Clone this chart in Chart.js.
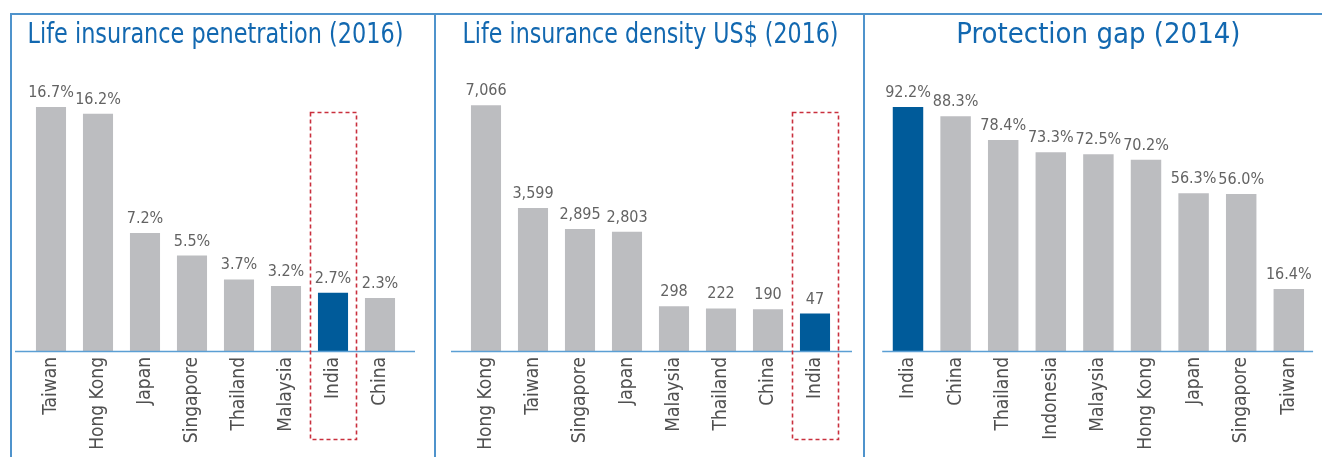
<!DOCTYPE html>
<html>
<head>
<meta charset="utf-8">
<script src="https://cdn.jsdelivr.net/npm/chart.js@4.4.1/dist/chart.umd.min.js"></script>
<style>
  html, body { margin: 0; padding: 0; background: #fff; }
  body { width: 1322px; height: 457px; position: relative; overflow: hidden; }
  .line { position: absolute; background: #4f93cc; }
  canvas { position: absolute; top: 0; }
</style>
</head>
<body>
<div class="line" style="left:10px; top:13px; width:1312px; height:1.5px;"></div>
<div class="line" style="left:10px; top:13px; width:1.5px; height:444px;"></div>
<div class="line" style="left:434px; top:13px; width:1.5px; height:444px;"></div>
<div class="line" style="left:863px; top:13px; width:1.5px; height:444px;"></div>
<canvas id="c1" width="424" height="457" style="left:10px"></canvas>
<canvas id="c2" width="430" height="457" style="left:434px"></canvas>
<canvas id="c3" width="458" height="457" style="left:864px"></canvas>
<script>
// ---- data ----
const penetrationTitle = "Life insurance penetration (2016)";
const penetrationCountries = ["Taiwan", "Hong Kong", "Japan", "Singapore", "Thailand", "Malaysia", "India", "China"];
const penetrationValues = [16.7, 16.2, 7.2, 5.5, 3.7, 3.2, 2.7, 2.3];

const densityTitle = "Life insurance density US$ (2016)";
const densityCountries = ["Hong Kong", "Taiwan", "Singapore", "Japan", "Malaysia", "Thailand", "China", "India"];
const densityValues = [7066, 3599, 2895, 2803, 298, 222, 190, 47];

const gapTitle = "Protection gap (2014)";
const gapCountries = ["India", "China", "Thailand", "Indonesia", "Malaysia", "Hong Kong", "Japan", "Singapore", "Taiwan"];
const gapValues = [92.2, 88.3, 78.4, 73.3, 72.5, 70.2, 56.3, 56.0, 16.4];

const highlightCountry = "India";

// value-axis ranges (bars rise from the axis floor, as in the original graphic)
const penetrationAxis = { min: -1.7, max: 18.14 };
const densityAxis = { min: -1212, max: 7643 };
const gapAxis = { min: -9.4, max: 100.1 };

// ---- styling ----
const FONT = "'DejaVu Sans Condensed', 'Roboto', sans-serif";
const GRAY = "#bcbdc0";
const BLUE = "#005b9a";
const TITLE_BLUE = "#1268b0";
const LABEL_GRAY = "#636363";

const valueLabels = {
  id: 'valueLabels',
  afterDatasetsDraw(chart, args, opts) {
    const ctx = chart.ctx;
    const meta = chart.getDatasetMeta(0);
    ctx.save();
    ctx.font = "16px " + FONT;
    ctx.fillStyle = LABEL_GRAY;
    ctx.textAlign = 'center';
    ctx.textBaseline = 'alphabetic';
    meta.data.forEach((bar, i) => {
      ctx.fillText(opts.format(chart.data.datasets[0].data[i]), bar.x, bar.y - 10);
    });
    ctx.restore();
  }
};

const baseline = {
  id: 'baseline',
  afterDatasetsDraw(chart, args, opts) {
    const ctx = chart.ctx, a = chart.chartArea;
    ctx.save();
    ctx.strokeStyle = "#5b9fd4";
    ctx.lineWidth = 1.5;
    ctx.beginPath();
    ctx.moveTo(a.left - opts.extL, a.bottom + 0.5);
    ctx.lineTo(a.right + opts.extR, a.bottom + 0.5);
    ctx.stroke();
    ctx.restore();
  }
};

const highlightBox = {
  id: 'highlightBox',
  afterDraw(chart, args, opts) {
    if (!opts.show) return;
    const ctx = chart.ctx;
    const xs = chart.scales.x;
    const idx = chart.data.labels.indexOf(opts.label);
    const cx = xs.getPixelForValue(idx);
    const half = 23;
    ctx.save();
    ctx.strokeStyle = "#c9303e";
    ctx.lineWidth = 1.6;
    ctx.setLineDash([4, 3]);
    ctx.strokeRect(Math.round(cx - half) + 0.5, 112.5, half * 2, 327);
    ctx.restore();
  }
};

function makeChart(id, title, labels, values, axis, fmt, pad, ext, box) {
  const colors = labels.map(l => l === highlightCountry ? BLUE : GRAY);
  return new Chart(document.getElementById(id), {
    type: 'bar',
    data: {
      labels: labels,
      datasets: [{ data: values, backgroundColor: colors, borderWidth: 0,
                   base: axis.min,
                   categoryPercentage: 1.0, barPercentage: 0.64 }]
    },
    options: {
      responsive: false,
      animation: false,
      devicePixelRatio: 1,
      layout: { padding: { left: pad.l, right: pad.r, top: 0, bottom: 0 } },
      plugins: {
        legend: { display: false },
        tooltip: { enabled: false },
        title: {
          display: true, text: title, color: TITLE_BLUE,
          font: { family: FONT, size: 29, weight: 'normal', lineHeight: 1.2 },
          padding: { top: 18, bottom: 35.2 }, align: 'center'
        },
        valueLabels: { format: fmt },
        baseline: ext,
        highlightBox: box
      },
      scales: {
        y: { display: false, min: axis.min, max: axis.max },
        x: {
          grid: { display: false, drawTicks: false },
          border: { display: false },
          ticks: { color: "#505050", font: { family: FONT, size: 19 },
                   minRotation: 90, maxRotation: 90, padding: 6, autoSkip: false },
          afterFit(scale) { scale.height = 106; }
        }
      }
    },
    plugins: [valueLabels, baseline, highlightBox]
  });
}

const pctFmt = v => v.toFixed(1) + "%";
const numFmt = v => v.toLocaleString('en-US');

makeChart('c1', penetrationTitle, penetrationCountries, penetrationValues, penetrationAxis, pctFmt,
  { l: 17.5, r: 30.5 }, { extL: 12.5, extR: 11.5 }, { show: true, label: highlightCountry });
makeChart('c2', densityTitle, densityCountries, densityValues, densityAxis, numFmt,
  { l: 28.5, r: 25.5 }, { extL: 11.5, extR: 13.5 }, { show: true, label: highlightCountry });
makeChart('c3', gapTitle, gapCountries, gapValues, gapAxis, pctFmt,
  { l: 20.2, r: 9.4 }, { extL: 2, extR: 0.5 }, { show: false });
</script>
</body>
</html>
